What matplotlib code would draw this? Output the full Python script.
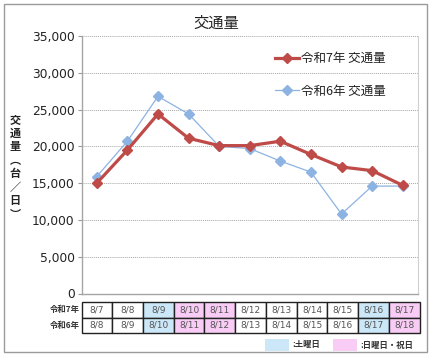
import matplotlib
matplotlib.use("Agg")
import matplotlib.pyplot as plt
from matplotlib.patches import Rectangle, FancyBboxPatch
from matplotlib.ticker import FuncFormatter, MultipleLocator

plt.rcParams['font.family'] = ['Noto Sans CJK JP', 'DejaVu Sans']

# ---- data ----
title = "交通量"
series7_name = "令和7年 交通量"
series6_name = "令和6年 交通量"
dates7 = ["8/7", "8/8", "8/9", "8/10", "8/11", "8/12", "8/13", "8/14", "8/15", "8/16", "8/17"]
dates6 = ["8/8", "8/9", "8/10", "8/11", "8/12", "8/13", "8/14", "8/15", "8/16", "8/17", "8/18"]
traffic7 = [15000, 19500, 24400, 21100, 20100, 20100, 20700, 18900, 17200, 16700, 14700]
traffic6 = [15900, 20700, 26800, 24400, 20000, 19700, 18000, 16500, 10800, 14600, 14600]
daytype7 = ["wd", "wd", "sat", "hol", "hol", "wd", "wd", "wd", "wd", "sat", "hol"]
daytype6 = ["wd", "wd", "sat", "hol", "hol", "wd", "wd", "wd", "wd", "sat", "hol"]
row_labels = ["令和7年", "令和6年"]
legend_sat = ":土曜日"
legend_hol = ":日曜日・祝日"
ylabel_chars = ["交", "通", "量", "︵", "台", "／", "日", "︶"]

# ---- style ----
W, H = 432, 356
RED = "#BE4B48"
BLUE = "#8DB3E2"
SAT = "#CCE8F8"
HOL = "#F9CCF5"
day_colors = {"wd": "white", "sat": SAT, "hol": HOL}

def fx(px):
    return px / W

def fy(py):
    return 1 - py / H

fig = plt.figure(figsize=(W / 100, H / 100), dpi=100)
fig.patch.set_facecolor("white")

# outer border
fig.patches.append(FancyBboxPatch((fx(3.5), fy(352)), fx(427) - fx(3.5), fy(3.5) - fy(352),
                                  boxstyle="square,pad=0", transform=fig.transFigure,
                                  facecolor="none", edgecolor="#9a9a9a", lw=1.0))

ax_l, ax_r, ax_t, ax_b = 81.5, 418, 36, 293.5
ax = fig.add_axes([fx(ax_l), fy(ax_b), fx(ax_r) - fx(ax_l), fy(ax_t) - fy(ax_b)])

x = list(range(len(dates7)))
ax.plot(x, traffic6, color=BLUE, lw=0.9, marker="D", markersize=5.5,
        markerfacecolor=BLUE, markeredgecolor=BLUE, label=series6_name, zorder=3)
ax.plot(x, traffic7, color=RED, lw=2.3, marker="D", markersize=5.3,
        markerfacecolor=RED, markeredgecolor=RED, label=series7_name, zorder=4)

ax.set_xlim(-0.5, len(x) - 0.5)
ax.set_ylim(0, 35000)
ax.yaxis.set_major_locator(MultipleLocator(5000))
ax.yaxis.set_major_formatter(FuncFormatter(lambda v, p: f"{int(v):,}"))
ax.set_xticks([])
ax.tick_params(axis="y", length=3, width=0.8, color="#999999", labelsize=8.8,
               labelcolor="#222222", pad=2)
for lab in ax.get_yticklabels():
    lab.set_family(['DejaVu Sans'])
ax.grid(axis="y", color="#a8a8a8", lw=0.7, linestyle=(0, (1, 1)))
ax.set_axisbelow(True)
for s in ["left", "bottom"]:
    ax.spines[s].set_color("#a6a6a6")
    ax.spines[s].set_linewidth(1.0)
ax.spines["right"].set_color("#d0d0d0")
ax.spines["right"].set_linewidth(0.8)
ax.spines["top"].set_visible(False)

# legend (red first)
h, l = ax.get_legend_handles_labels()
leg = ax.legend([h[1], h[0]], [l[1], l[0]], loc="upper left",
                bbox_to_anchor=(fx(275), fy(52)), bbox_transform=fig.transFigure,
                frameon=False, fontsize=9, handlelength=1.9, handletextpad=0.2,
                labelspacing=1.55, borderpad=0, borderaxespad=0)
for t in leg.get_texts():
    t.set_color("#222222")

# title
fig.text(fx(216), fy(23), title, ha="center", va="center", fontsize=11, color="#222222")

# y label (vertical, stacked)
fig.text(fx(15), fy(167), "\n".join(ylabel_chars), ha="center", va="center",
         fontsize=8, color="#222222", fontweight="bold", linespacing=1.05)

# date table
tb_top, tb_bot = 302.3, 332.7
ax_h = ax_b - ax_t
y0 = -(tb_bot - ax_b) / ax_h
hh = (tb_bot - tb_top) / ax_h
cell_colors = [[day_colors[d] for d in daytype7], [day_colors[d] for d in daytype6]]
tbl = ax.table(cellText=[dates7, dates6], cellColours=cell_colors, cellLoc="center",
               bbox=[0, y0, 1.005, hh])
tbl.auto_set_font_size(False)
tbl.set_fontsize(6.5)
for (r, c), cell in tbl.get_celld().items():
    cell.set_edgecolor("#222222")
    cell.set_linewidth(1.0)
    cell.get_text().set_color("#555555")
    cell.get_text().set_family(['DejaVu Sans'])
tbl.set_clip_on(False)

for i, lab in enumerate(row_labels):
    yc = tb_top + (tb_bot - tb_top) * (i + 0.5) / 2
    fig.text(fx(80), fy(yc), lab, ha="right", va="center", fontsize=6,
             color="#333333", fontweight="bold")

# day-type legend
for (x0, x1, col, txt) in [(265, 289, SAT, legend_sat), (333, 357, HOL, legend_hol)]:
    fig.patches.append(Rectangle((fx(x0), fy(351)), fx(x1) - fx(x0), fy(339) - fy(351),
                                 transform=fig.transFigure, facecolor=col, edgecolor="none"))
    fig.text(fx(x1 + 3), fy(345), txt, ha="left", va="center", fontsize=6,
             color="#333333", fontweight="bold")

fig.savefig("out.png", dpi=100, facecolor="white")
